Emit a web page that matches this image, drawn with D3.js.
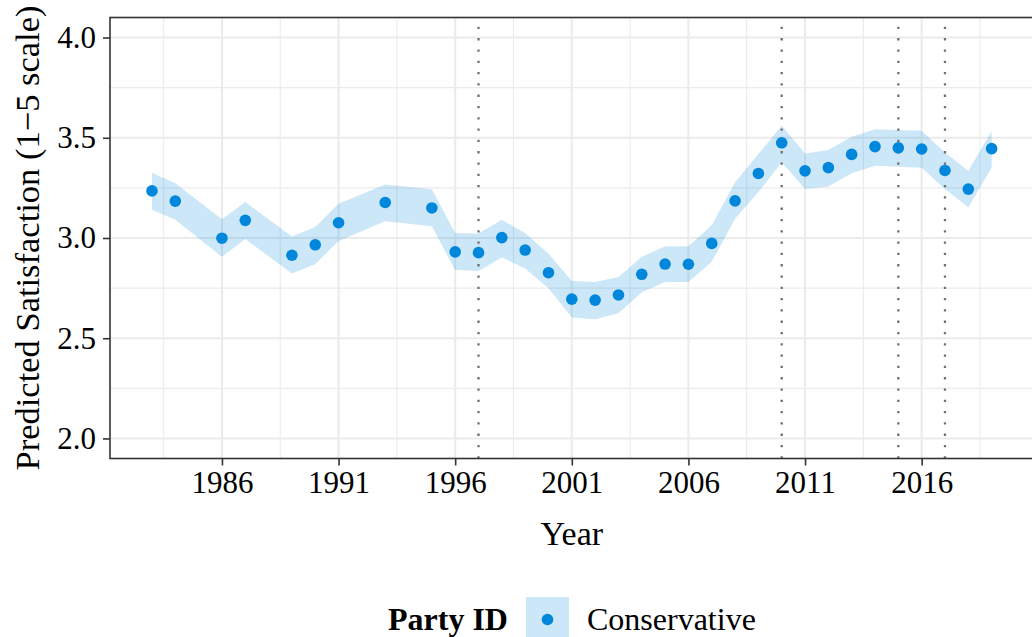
<!DOCTYPE html>
<html>
<head>
<meta charset="utf-8">
<script src="https://cdn.jsdelivr.net/npm/d3@7"></script>
<style>
  html, body { margin: 0; padding: 0; background: #ffffff; }
  svg { display: block; }
  text { font-family: "Liberation Serif", "Times New Roman", serif; fill: #000; }
</style>
</head>
<body>
<svg id="chart" width="1032" height="637"></svg>
<script>
// Survey years with an estimate
const years = [1983, 1984, 1986, 1987, 1989, 1990, 1991, 1993, 1995, 1996, 1997, 1998, 1999,
  2000, 2001, 2002, 2003, 2004, 2005, 2006, 2007, 2008, 2009, 2010, 2011, 2012, 2013, 2014,
  2015, 2016, 2017, 2018, 2019];
// Predicted satisfaction, Conservative identifiers
const predicted = [3.235, 3.184, 2.999, 3.088, 2.914, 2.966, 3.076, 3.177, 3.150, 2.931, 2.927,
  3.002, 2.940, 2.827, 2.695, 2.690, 2.716, 2.819, 2.870, 2.869, 2.973, 3.185, 3.322, 3.475,
  3.335, 3.351, 3.417, 3.456, 3.450, 3.444, 3.337, 3.244, 3.446];
// 95% interval bounds
const lower = [3.141, 3.091, 2.906, 2.995, 2.823, 2.869, 2.985, 3.083, 3.058, 2.840, 2.836,
  2.903, 2.848, 2.749, 2.604, 2.595, 2.624, 2.729, 2.781, 2.781, 2.881, 3.096, 3.229, 3.378,
  3.245, 3.257, 3.323, 3.361, 3.356, 3.350, 3.245, 3.154, 3.350];
const upper = [3.325, 3.273, 3.094, 3.179, 3.008, 3.055, 3.171, 3.267, 3.243, 3.025, 3.022,
  3.091, 3.025, 2.922, 2.785, 2.781, 2.806, 2.906, 2.959, 2.959, 3.063, 3.278, 3.419, 3.560,
  3.422, 3.439, 3.505, 3.543, 3.539, 3.535, 3.427, 3.336, 3.532];
// General election years marked with reference lines
const electionYears = [1997, 2010, 2015, 2017];
// Axis ticks
const xTicks = [1986, 1991, 1996, 2001, 2006, 2011, 2016];
const xMinor = [1983.5, 1988.5, 1993.5, 1998.5, 2003.5, 2008.5, 2013.5, 2018.5];
const yTicks = [2.0, 2.5, 3.0, 3.5, 4.0];
const yMinor = [2.25, 2.75, 3.25, 3.75];
const partyLabel = "Conservative";
const partyColor = "#0087DC";

const rows = years.map((y, i) => ({ year: y, fit: predicted[i], lo: lower[i], hi: upper[i] }));

const svg = d3.select("#chart");
const panel = { left: 110, right: 1033.6, top: 17.5, bottom: 458.5 };

const x = d3.scaleLinear().domain([1981.2, 2020.8]).range([panel.left, panel.right]);
const y = d3.scaleLinear().domain([1.9, 4.1]).range([panel.bottom, panel.top]);

// Grid
const grid = svg.append("g");
grid.selectAll(".ymin").data(yMinor).join("line")
  .attr("x1", panel.left).attr("x2", panel.right)
  .attr("y1", d => y(d)).attr("y2", d => y(d))
  .attr("stroke", "#ebebeb").attr("stroke-width", 1.1);
grid.selectAll(".xmin").data(xMinor).join("line")
  .attr("y1", panel.top).attr("y2", panel.bottom)
  .attr("x1", d => x(d)).attr("x2", d => x(d))
  .attr("stroke", "#ebebeb").attr("stroke-width", 1.1);
grid.selectAll(".ymaj").data(yTicks).join("line")
  .attr("x1", panel.left).attr("x2", panel.right)
  .attr("y1", d => y(d)).attr("y2", d => y(d))
  .attr("stroke", "#ebebeb").attr("stroke-width", 2.1);
grid.selectAll(".xmaj").data(xTicks).join("line")
  .attr("y1", panel.top).attr("y2", panel.bottom)
  .attr("x1", d => x(d)).attr("x2", d => x(d))
  .attr("stroke", "#ebebeb").attr("stroke-width", 2.1);

// Confidence ribbon
const area = d3.area()
  .x(d => x(d.year))
  .y0(d => y(d.lo))
  .y1(d => y(d.hi));
svg.append("path").datum(rows)
  .attr("d", area)
  .attr("fill", partyColor)
  .attr("fill-opacity", 0.2);

// Election reference lines, drawn bottom to top
svg.append("g").selectAll("line").data(electionYears).join("line")
  .attr("x1", d => x(d)).attr("x2", d => x(d))
  .attr("y1", panel.bottom).attr("y2", panel.top)
  .attr("stroke", "#707070").attr("stroke-width", 2.3)
  .attr("stroke-dasharray", "2.3,9.0");

// Points
svg.append("g").selectAll("circle").data(rows).join("circle")
  .attr("cx", d => x(d.year)).attr("cy", d => y(d.fit))
  .attr("r", 5.8).attr("fill", partyColor);

// Panel border
svg.append("rect")
  .attr("x", panel.left).attr("y", panel.top)
  .attr("width", panel.right - panel.left).attr("height", panel.bottom - panel.top)
  .attr("fill", "none").attr("stroke", "#333333").attr("stroke-width", 1.6);

// Axes
const xAxis = svg.append("g")
  .attr("transform", `translate(0,${panel.bottom})`)
  .call(d3.axisBottom(x).tickValues(xTicks).tickFormat(d3.format("d")).tickSize(7).tickPadding(5));
const yAxis = svg.append("g")
  .attr("transform", `translate(${panel.left},0)`)
  .call(d3.axisLeft(y).tickValues(yTicks).tickFormat(d3.format(".1f")).tickSize(7).tickPadding(7));
[xAxis, yAxis].forEach(a => {
  a.select(".domain").remove();
  a.selectAll(".tick line").attr("stroke", "#333333").attr("stroke-width", 1.6);
  a.selectAll(".tick text")
    .attr("font-family", "'Liberation Serif', serif")
    .attr("font-size", 31).attr("fill", "#1a1a1a");
});

// Axis titles
svg.append("text")
  .attr("x", (panel.left + panel.right) / 2).attr("y", 545)
  .attr("text-anchor", "middle").attr("font-size", 34)
  .text("Year");
svg.append("text")
  .attr("transform", `translate(39,${(panel.top + panel.bottom) / 2}) rotate(-90)`)
  .attr("text-anchor", "middle").attr("font-size", 34.5)
  .text("Predicted Satisfaction (1\u22125 scale)");

// Legend
const legend = svg.append("g");
legend.append("text")
  .attr("x", 388).attr("y", 630)
  .attr("font-size", 32).attr("font-weight", "bold")
  .text("Party ID");
legend.append("rect")
  .attr("x", 526).attr("y", 597).attr("width", 43).attr("height", 43)
  .attr("fill", partyColor).attr("fill-opacity", 0.2);
legend.append("circle")
  .attr("cx", 547.5).attr("cy", 619.5).attr("r", 5.8).attr("fill", partyColor);
legend.append("text")
  .attr("x", 587).attr("y", 630)
  .attr("font-size", 32)
  .text(partyLabel);
</script>
</body>
</html>
